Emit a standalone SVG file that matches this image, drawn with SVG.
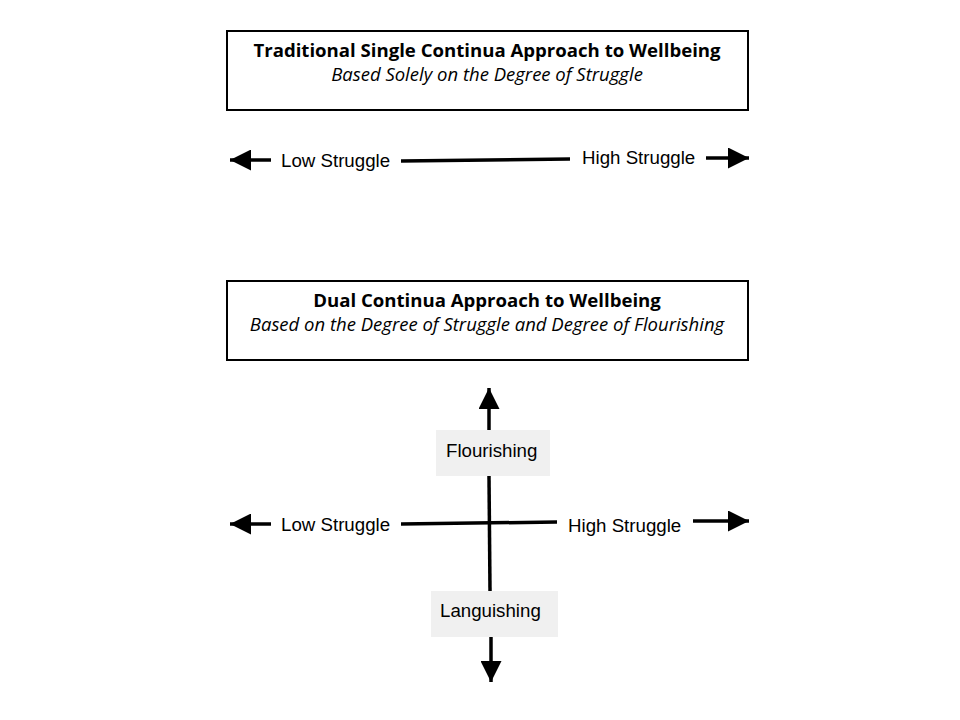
<svg xmlns="http://www.w3.org/2000/svg" width="960" height="720" viewBox="0 0 960 720">
<style>
.box{fill:#fff;stroke:#000;stroke-width:2}
.title{font-family:"Open Sans","Noto Sans",sans-serif;font-weight:bold;font-size:18.6px;text-anchor:middle}
.sub{font-family:"Open Sans","Noto Sans",sans-serif;font-style:italic;font-size:18.5px;text-anchor:middle}
.lbl{font-family:"Liberation Sans",Arial,sans-serif;font-size:18.7px;fill:#000}
.lab{fill:#f0f0f0}
.ln{stroke:#000;stroke-width:3.5;fill:none}
.ar{stroke:#000;stroke-width:3.5;fill:none;marker-end:url(#ah)}
</style>
<defs>
<marker id="ah" viewBox="0 0 10 10" refX="10" refY="5" markerWidth="6" markerHeight="6" orient="auto" markerUnits="strokeWidth">
<path d="M0,0 L10,5 L0,10 Z" fill="#000"/>
</marker>
</defs>
<rect width="960" height="720" fill="#fff"/>
<g id="box-traditional">
<rect class="box" x="227" y="31" width="521" height="79"/>
<text class="title" x="487" y="57">Traditional Single Continua Approach to Wellbeing</text>
<text class="sub" x="487" y="81">Based Solely on the Degree of Struggle</text>
</g>
<g id="box-dual">
<rect class="box" x="227" y="281" width="521" height="79"/>
<text class="title" x="487" y="307">Dual Continua Approach to Wellbeing</text>
<text class="sub" x="487" y="331">Based on the Degree of Struggle and Degree of Flourishing</text>
</g>
<g id="connectors">
<path class="ar" d="M271,160 L230,160"/>
<path class="ln" d="M401,161 L570,159"/>
<path class="ar" d="M706,158 L749,158"/>
<path class="ar" d="M271,524 L230,524"/>
<path class="ln" d="M401,524 L557,522"/>
<path class="ar" d="M693,521 L749,521"/>
<path class="ar" d="M489,430 L489,388"/>
<path class="ln" d="M489,476 L490,591"/>
<path class="ar" d="M491,637 L491,682"/>
</g>
<g id="low-top"><text class="lbl" x="281" y="167">Low Struggle</text></g>
<g id="high-top"><text class="lbl" x="582" y="164">High Struggle</text></g>
<g id="low-bottom"><text class="lbl" x="281" y="531">Low Struggle</text></g>
<g id="high-bottom"><text class="lbl" x="568" y="532">High Struggle</text></g>
<g id="flourishing">
<rect class="lab" x="436" y="430" width="114" height="46"/>
<text class="lbl" x="446" y="457">Flourishing</text>
</g>
<g id="languishing">
<rect class="lab" x="431" y="591" width="127" height="46"/>
<text class="lbl" x="440" y="617">Languishing</text>
</g>
</svg>
